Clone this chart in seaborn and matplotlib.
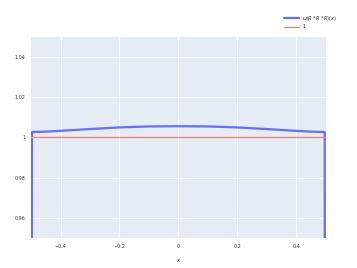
import numpy as np
import pandas as pd
import seaborn as sns
import matplotlib.pyplot as plt

# values
x_vals = [-0.5, -0.497, -0.45, -0.4, -0.3, -0.2, -0.1, 0.0, 0.1, 0.2, 0.3, 0.4, 0.45, 0.497, 0.5]
omega = [0.5, 1.0027, 1.0029, 1.0033, 1.0042, 1.0050, 1.0055, 1.0056, 1.0055, 1.0050, 1.0042, 1.0033, 1.0029, 1.0027, 0.5]
const_x = [-0.5, 0.5]
const_y = [1.0, 1.0]

yticks = [0.96, 0.98, 1.0, 1.02, 1.04]
ytick_labels = ['0.96', '0.98', '1', '1.02', '1.04']
xticks = [-0.4, -0.2, 0, 0.2, 0.4]
xtick_labels = ['−0.4', '−0.2', '0', '0.2', '0.4']

df1 = pd.DataFrame({'x': x_vals, 'y': omega})
df2 = pd.DataFrame({'x': const_x, 'y': const_y})

sns.set_style('darkgrid', {'axes.facecolor': '#E5ECF6', 'grid.color': 'white'})

fig = plt.figure(figsize=(3.57, 2.68), dpi=100)
ax = fig.add_axes([0.087, 0.112, 0.825, 0.75])

sns.lineplot(data=df1, x='x', y='y', ax=ax, color='#636EFA', linewidth=1.6,
             label=r'$\omega(R*R*R)(x)$', sort=False)
sns.lineplot(data=df2, x='x', y='y', ax=ax, color='#F4836E', linewidth=0.9,
             label='1')

ax.set_xlim(-0.5, 0.5)
ax.set_ylim(0.95, 1.05)
ax.set_xticks(xticks)
ax.set_xticklabels(xtick_labels)
ax.set_yticks(yticks)
ax.set_yticklabels(ytick_labels)
ax.tick_params(length=0, labelsize=3.5, colors='#2a3f5f', pad=4)
ax.grid(True, color='white', linewidth=0.6)
for s in ax.spines.values():
    s.set_visible(False)
ax.set_xlabel(r'$x$', fontsize=4, color='#2a3f5f', labelpad=6)
ax.set_ylabel('')

ax.legend(loc='upper left', bbox_to_anchor=(0.79, 0.955), bbox_transform=fig.transFigure,
          frameon=False, fontsize=3.5, handlelength=3, labelspacing=0.3,
          borderaxespad=0)

fig.savefig('out.png', dpi=100)
